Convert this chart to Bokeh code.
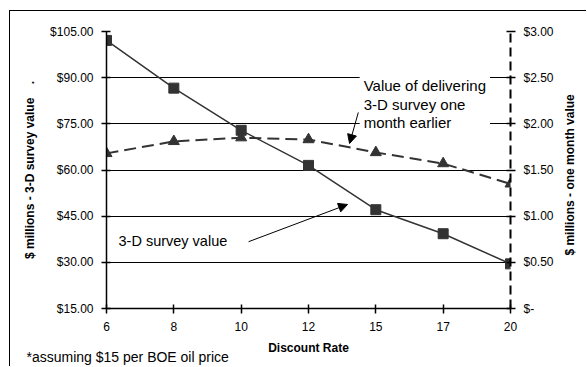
import math
from bokeh.plotting import figure
from bokeh.models import (Range1d, LinearAxis, FixedTicker, NumeralTickFormatter,
                          CustomJSTickFormatter, Label, Arrow, NormalHead, Title)
from bokeh.embed import file_html
from bokeh.resources import INLINE

# ---- data ----
rates = ["6", "8", "10", "12", "15", "17", "20"]
survey_value = [102.1, 86.6, 72.9, 61.5, 47.1, 39.3, 29.5]          # left axis, $ millions
one_month_value = [1.68, 1.81, 1.85, 1.83, 1.69, 1.57, 1.35]        # right axis, $ millions
left_ticks = [15, 30, 45, 60, 75, 90, 105]
right_ticks = [0, 0.5, 1.0, 1.5, 2.0, 2.5, 3.0]
right_title = "$ millions - one month value"

FONT = "Liberation Sans"
DARK = "#333333"
pos = list(range(len(rates)))

p = figure(width=577, height=356, output_backend="svg", toolbar_location=None,
           x_range=Range1d(0, len(rates) - 1), y_range=Range1d(left_ticks[0], left_ticks[-1]),
           min_border_left=96, min_border_right=77, min_border_top=20, min_border_bottom=59,
           outline_line_color=None, background_fill_color="white", border_fill_color="white",
           styles={"margin-left": "9px", "margin-top": "10px",
                   "border-top": "1px solid black", "border-left": "1px solid black"})
p.extra_y_ranges = {"right": Range1d(right_ticks[0], right_ticks[-1])}

# grid
p.xgrid.visible = False
p.ygrid.ticker = FixedTicker(ticks=left_ticks)
p.ygrid.grid_line_color = "black"
p.ygrid.grid_line_width = 1

# x axis
xa = p.xaxis[0]
xa.ticker = FixedTicker(ticks=pos)
xa.formatter = CustomJSTickFormatter(args=dict(labels=rates),
                                     code="return labels[Math.round(tick)];")
xa.axis_label = "Discount Rate"

# left axis
ya = p.yaxis[0]
ya.ticker = FixedTicker(ticks=left_ticks)
ya.formatter = NumeralTickFormatter(format="$0.00")
ya.axis_label = "$ millions - 3-D survey value\u00a0\u00a0\u00a0\u00a0."
ya.axis_label_standoff = 10

# right axis
ra = LinearAxis(y_range_name="right", ticker=FixedTicker(ticks=right_ticks),
                formatter=CustomJSTickFormatter(
                    code="return tick == 0 ? '$-' : '$' + tick.toFixed(2);"))
ra.axis_line_dash = "9 5"
ra.axis_line_width = 2
p.add_layout(ra, "right")

for ax in (xa, ya, ra):
    ax.major_tick_in = 4
    ax.major_tick_out = 5
    ax.minor_tick_line_color = None
    ax.major_tick_line_color = "black"
    ax.major_tick_line_width = 1.5
    ax.axis_line_color = "black"
    ax.major_label_standoff = 8
    ax.major_label_text_font = FONT
    ax.major_label_text_font_size = "12px"
    ax.major_label_text_color = "black"
    ax.axis_label_text_font = FONT
    ax.axis_label_text_font_size = "12px"
    ax.axis_label_text_font_style = "bold"
    ax.axis_label_text_color = "black"
xa.axis_line_width = 1.5
ya.axis_line_width = 1.5
xa.axis_label_standoff = 7

# right-hand title, reading bottom-to-top: drawn as the single rotated label of a bare axis
rt = LinearAxis(ticker=FixedTicker(ticks=[32.2]),
                formatter=CustomJSTickFormatter(args=dict(t=right_title), code="return t;"),
                axis_line_color=None, major_tick_line_color=None, minor_tick_line_color=None,
                major_tick_in=0, major_tick_out=0, major_label_standoff=14,
                major_label_orientation=math.pi / 2, major_label_text_font=FONT,
                major_label_text_font_size="12px", major_label_text_font_style="bold",
                major_label_text_color="black")
p.add_layout(rt, "right")

# footnote below the axis
p.add_layout(Title(text="*assuming $15 per BOE oil price", align="left", offset=-80,
                   standoff=-17, vertical_align="top", text_font=FONT,
                   text_font_size="14px", text_font_style="normal", text_color="black"),
             "below")

# series
p.line(pos, survey_value, line_color=DARK, line_width=1.5)
p.scatter(pos, survey_value, marker="square", size=10, fill_color=DARK, line_color=DARK)
p.line(pos, one_month_value, y_range_name="right", line_color=DARK, line_width=2,
       line_dash="12 6")
p.scatter(pos, one_month_value, y_range_name="right", marker="triangle", size=11,
          fill_color=DARK, line_color=DARK)

# annotations
note1 = Label(x=3.76, y=91.4, text="Value of delivering\n3-D survey one\nmonth earlier",
              text_align="left", text_baseline="top", text_font=FONT,
              text_font_size="15px", text_line_height=1.09, text_color="black",
              background_fill_color="white", padding=4)
p.add_layout(note1)
p.add_layout(Arrow(end=NormalHead(size=9, fill_color="black", line_color="black"),
                   x_start=3.74, y_start=78.7, x_end=3.61, y_end=68.6,
                   line_color="black", line_width=1))

note2 = Label(x=0.178, y=37.05, text="3-D survey value", text_align="left",
              text_baseline="middle", text_font=FONT, text_font_size="14.5px",
              text_color="black")
p.add_layout(note2)
p.add_layout(Arrow(end=NormalHead(size=9, fill_color="black", line_color="black"),
                   x_start=2.11, y_start=36.7, x_end=3.58, y_end=48.8,
                   line_color="black", line_width=1))

open("out.html", "w").write(file_html(p, INLINE))
